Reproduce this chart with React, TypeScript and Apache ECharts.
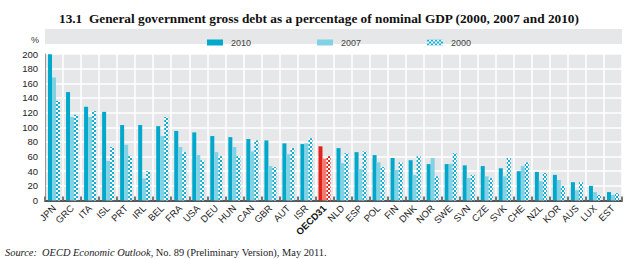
import React, { useEffect, useRef } from "react";
import * as echarts from "echarts";

const categories = ["JPN","GRC","ITA","ISL","PRT","IRL","BEL","FRA","USA","DEU","HUN","CAN","GBR","AUT","ISR","OECD31","NLD","ESP","POL","FIN","DNK","NOR","SWE","SVN","CZE","SVK","CHE","NZL","KOR","AUS","LUX","EST"];
const values2010 = [199.5,148,128,121,103,103,101.5,95,93,88,86.5,84,82,78,77,74,71.5,66,62,58,55,49.7,49.7,48,47,44,40,39,35,25,20,11.5];
const values2007 = [168,114,114,54,76,30,88,73,62,66,73,67,47,63,78,57,51,43,52,41.5,35,58,50,30.6,33,33,47,26.5,28,14,11.5,7.5];
const values2000 = [136,117,122,73,61,40,114,66,55,60.5,60.5,82,45.6,71.5,85,60.5,64.7,67,45.6,52,60.5,33,64.7,35,30.6,58,52,37.5,20,25,7.5,10];
const seriesNames = ["2010", "2007", "2000"];
const yTicks = { min: 0, max: 200, interval: 20 };
const highlight = "OECD31";

function checker(c1: string, c2: string): string {
  const cv = document.createElement("canvas");
  cv.width = 4;
  cv.height = 4;
  const ctx = cv.getContext("2d")!;
  ctx.fillStyle = c2;
  ctx.fillRect(0, 0, 4, 4);
  ctx.fillStyle = c1;
  ctx.fillRect(0, 0, 2, 2);
  ctx.fillRect(2, 2, 2, 2);
  return cv.toDataURL();
}

export default function App() {
  const ref = useRef<HTMLDivElement>(null);
  useEffect(() => {
    document.body.style.margin = "0";
    if (!ref.current) return;
    const chart = echarts.init(ref.current, undefined, { renderer: "svg" });
    const c2010 = "#00a8cb";
    const c2007 = "#80d2e4";
    const r2010 = "#e3221b";
    const r2007 = "#f47b6f";
    const pat = { image: checker("#10aed1", "#ffffff"), repeat: "repeat" };
    const patRed = { image: checker("#e3221b", "#ffffff"), repeat: "repeat" };
    const mk = (vals: number[], red: any) =>
      vals.map((v, i) =>
        categories[i] === highlight ? { value: v, itemStyle: { color: red } } : v
      );
    const font = "'Liberation Sans', Arial, sans-serif";
    chart.setOption({
      animation: false,
      title: {
        text: "13.1  General government gross debt as a percentage of nominal GDP (2000, 2007 and 2010)",
        left: 54,
        top: 7,
        textStyle: { fontFamily: "'Liberation Serif', serif", fontWeight: "bold", fontSize: 13.3, color: "#111" },
      },
      legend: {
        left: 202,
        top: 33,
        itemWidth: 16,
        itemHeight: 6,
        itemGap: 66,
        icon: "rect",
        textStyle: { fontFamily: font, fontSize: 9, color: "#444", padding: [0, 0, 0, 3] },
        data: seriesNames,
      },
      grid: {
        left: 45,
        right: 6,
        top: 54,
        bottom: 58.5,
        show: true,
        backgroundColor: "#e6e7e8",
        borderWidth: 0,
      },
      xAxis: {
        type: "category",
        data: categories,
        axisLine: { lineStyle: { color: "#555", width: 2 } },
        axisTick: { show: true, inside: true, length: 4, lineStyle: { color: "#777", width: 2 } },
        splitLine: { show: true, lineStyle: { color: "#ffffff", width: 1.5 } },
        axisLabel: {
          interval: 0,
          rotate: 45,
          margin: 6,
          fontFamily: font,
          fontSize: 9.5,
          color: "#222",
          formatter: (v: string) => (v === highlight ? "{b|" + v + "}" : v),
          rich: { b: { fontWeight: "bold", fontFamily: font, fontSize: 9.5, color: "#111" } },
        },
      },
      yAxis: {
        type: "value",
        min: yTicks.min,
        max: yTicks.max,
        interval: yTicks.interval,
        axisLine: { show: true, lineStyle: { color: "#999", width: 1 } },
        axisTick: { show: false },
        splitLine: { show: true, lineStyle: { color: "#ffffff", width: 1.5 } },
        axisLabel: { fontFamily: font, fontSize: 9.5, color: "#222", margin: 7 },
      },
      series: [
        { name: "2010", type: "bar", barWidth: 4, barGap: "0%", itemStyle: { color: c2010 }, data: mk(values2010, r2010) },
        { name: "2007", type: "bar", barWidth: 4, barGap: "0%", itemStyle: { color: c2007 }, data: mk(values2007, r2007) },
        { name: "2000", type: "bar", barWidth: 4, barGap: "0%", itemStyle: { color: pat }, data: mk(values2000, patRed) },
      ],
      graphic: [
        { type: "rect", z: -10, shape: { x: 45, y: 29, width: 577, height: 15 }, style: { fill: "#e6e7e8" } },
        { type: "text", x: 31, y: 40, style: { text: "%", fontFamily: font, fontSize: 9, fill: "#333", verticalAlign: "middle" } },
        {
          type: "text",
          x: 5,
          y: 252,
          style: {
            text: "{i|Source:}  {i|OECD Economic Outlook}, No. 89 (Preliminary Version), May 2011.",
            verticalAlign: "middle",
            fontFamily: "'Liberation Serif', serif",
            fontSize: 10.4,
            fill: "#222",
            rich: {
              i: { fontStyle: "italic", fontFamily: "'Liberation Serif', serif", fontSize: 10.4, fill: "#222" },
            },
          },
        },
      ],
    });
    return () => chart.dispose();
  }, []);
  return <div ref={ref} style={{ width: 628, height: 259 }} />;
}
